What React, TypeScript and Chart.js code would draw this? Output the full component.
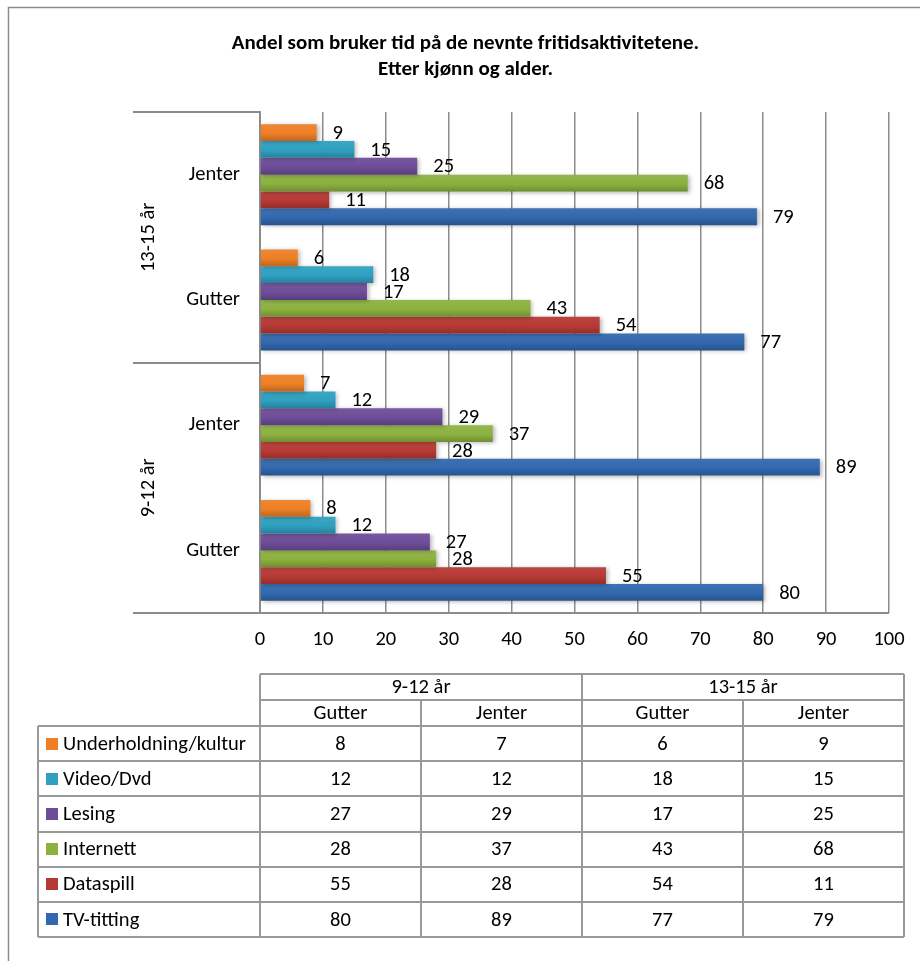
import React, { useEffect, useRef } from "react";
import { Chart, registerables } from "chart.js";

Chart.register(...registerables);

// ---- data -------------------------------------------------------------
const TITLE = [
  "Andel som bruker tid på de nevnte fritidsaktivitetene.",
  "Etter kjønn og alder.",
];
const AGE_GROUPS = ["9-12 år", "13-15 år"];
const GENDERS = ["Gutter", "Jenter"];
const SERIES = [
  "Underholdning/kultur",
  "Video/Dvd",
  "Lesing",
  "Internett",
  "Dataspill",
  "TV-titting",
];
const COLORS = ["#EE7F26", "#2FA0C0", "#6E4D98", "#8CB13F", "#B73935", "#3268AE"];

// columns: 9-12 Gutter, 9-12 Jenter, 13-15 Gutter, 13-15 Jenter
const underholdning = [8, 7, 6, 9];
const videoDvd = [12, 12, 18, 15];
const lesing = [27, 29, 17, 25];
const internett = [28, 37, 43, 68];
const dataspill = [55, 28, 54, 11];
const tvTitting = [80, 89, 77, 79];
const SERIES_VALUES = [underholdning, videoDvd, lesing, internett, dataspill, tvTitting];

const X_MIN = 0;
const X_MAX = 100;
const X_STEP = 10;

// ---- look -------------------------------------------------------------
const FONT = "Carlito, Lato, 'Liberation Sans', sans-serif";
const FS = 20.5;
const LINE = "#8c8c8c";
const TEXT = "#000000";

// columns in table order, reversed for the chart (top group first)
const COLUMNS = AGE_GROUPS.flatMap((age) => GENDERS.map((g) => ({ age, gender: g })));
const CHART_COLUMNS = COLUMNS.slice().reverse();

function shade(hex: string, f: number) {
  const n = parseInt(hex.slice(1), 16);
  const r = (n >> 16) & 255, g = (n >> 8) & 255, b = n & 255;
  const m = (c: number) => Math.round(f >= 0 ? c + (255 - c) * f : c * (1 + f));
  return `rgb(${m(r)},${m(g)},${m(b)})`;
}

// gives each bar a top-to-bottom gradient and a soft drop shadow
const barShading = {
  id: "barShading",
  beforeDatasetsDraw(chart: any) {
    const c = chart.ctx;
    chart.data.datasets.forEach((ds: any, di: number) => {
      const meta = chart.getDatasetMeta(di);
      meta.data.forEach((el: any) => {
        const h = el.height;
        const g = c.createLinearGradient(0, el.y - h / 2, 0, el.y + h / 2);
        g.addColorStop(0, shade(COLORS[di], 0.06));
        g.addColorStop(0.55, COLORS[di]);
        g.addColorStop(1, shade(COLORS[di], -0.2));
        el.options = Object.assign({}, el.options, { backgroundColor: g });
      });
    });
  },
  beforeDatasetDraw(chart: any) {
    const c = chart.ctx;
    c.save();
    c.shadowColor = "rgba(0,0,0,0.28)";
    c.shadowBlur = 4;
    c.shadowOffsetX = 2;
    c.shadowOffsetY = 1;
  },
  afterDatasetDraw(chart: any) {
    chart.ctx.restore();
  },
};

// value labels right of each bar
const valueLabels = {
  id: "valueLabels",
  afterDatasetsDraw(chart: any) {
    const c = chart.ctx;
    c.save();
    c.font = `${FS}px ${FONT}`;
    c.fillStyle = TEXT;
    c.textAlign = "left";
    c.textBaseline = "middle";
    chart.data.datasets.forEach((ds: any, di: number) => {
      const meta = chart.getDatasetMeta(di);
      meta.data.forEach((el: any, i: number) => {
        c.fillText(String(ds.data[i]), el.x + 16, el.y + 1);
      });
    });
    c.restore();
  },
};

// outer frame, age-group brackets and the data table
const frameAndTable = {
  id: "frameAndTable",
  afterDraw(chart: any) {
    const c = chart.ctx;
    const area = chart.chartArea;
    const y = chart.scales.y;
    const groupLeft = 133;
    c.save();

    // frame
    c.strokeStyle = LINE;
    c.lineWidth = 1.5;
    c.strokeRect(8.5, 7.5, 940, 1000);

    // group separators on the category axis
    c.lineWidth = 2;
    c.strokeStyle = LINE;
    const seps = [area.top, y.getPixelForValue(1.5)];
    c.beginPath();
    seps.forEach((sy: number) => {
      c.moveTo(groupLeft, Math.round(sy));
      c.lineTo(area.left, Math.round(sy));
    });
    c.moveTo(groupLeft, Math.round(area.bottom));
    c.lineTo(area.right, Math.round(area.bottom));
    c.stroke();

    // rotated age-group labels (top group is the last age group)
    c.fillStyle = TEXT;
    c.font = `${FS}px ${FONT}`;
    c.textAlign = "center";
    c.textBaseline = "middle";
    const bounds = [area.top, y.getPixelForValue(1.5), area.bottom];
    const groupsTopDown = AGE_GROUPS.slice().reverse();
    groupsTopDown.forEach((label, k) => {
      const cy = (bounds[k] + bounds[k + 1]) / 2;
      c.save();
      c.translate(149, cy);
      c.rotate(-Math.PI / 2);
      c.fillText(label, 0, 0);
      c.restore();
    });

    // data table
    const tLeft = 38;
    const cLeft = 260;
    const cRight = 904;
    const colW = (cRight - cLeft) / COLUMNS.length;
    const hTop = 674;
    const hMid = 700;
    const dTop = 726;
    const dBottom = 937;
    const rowH = (dBottom - dTop) / SERIES.length;

    c.strokeStyle = "#999999";
    c.lineWidth = 2;
    c.beginPath();
    [hTop, hMid].forEach((yy) => {
      c.moveTo(cLeft, yy);
      c.lineTo(cRight, yy);
    });
    for (let r = 0; r <= SERIES.length; r++) {
      const yy = Math.round(dTop + r * rowH);
      c.moveTo(tLeft, yy);
      c.lineTo(cRight, yy);
    }
    c.moveTo(tLeft, dTop);
    c.lineTo(tLeft, dBottom);
    for (let k = 0; k <= COLUMNS.length; k++) {
      const xx = Math.round(cLeft + k * colW);
      const top = k % GENDERS.length === 0 ? hTop : hMid;
      c.moveTo(xx, top);
      c.lineTo(xx, dBottom);
    }
    c.stroke();

    c.fillStyle = TEXT;
    c.font = `${FS}px ${FONT}`;
    c.textBaseline = "middle";
    c.textAlign = "center";
    AGE_GROUPS.forEach((age, a) => {
      const x0 = cLeft + a * GENDERS.length * colW;
      c.fillText(age, x0 + (GENDERS.length * colW) / 2, (hTop + hMid) / 2 + 1);
    });
    COLUMNS.forEach((col, k) => {
      c.fillText(col.gender, cLeft + k * colW + colW / 2, (hMid + dTop) / 2 + 1);
    });
    SERIES.forEach((name, r) => {
      const cy = dTop + r * rowH + rowH / 2 + 1;
      c.fillStyle = COLORS[r];
      c.fillRect(46, Math.round(cy - 7), 12, 12);
      c.fillStyle = TEXT;
      c.textAlign = "left";
      c.fillText(name, 63, cy);
      c.textAlign = "center";
      SERIES_VALUES[r].forEach((v, k) => {
        c.fillText(String(v), cLeft + k * colW + colW / 2, cy);
      });
    });

    c.restore();
  },
};

export default function App() {
  const ref = useRef<HTMLCanvasElement | null>(null);

  useEffect(() => {
    document.body.style.margin = "0";
    document.body.style.background = "#ffffff";
    const canvas = ref.current;
    if (!canvas) return;

    const chart = new Chart(canvas, {
      type: "bar",
      data: {
        labels: CHART_COLUMNS.map((c) => c.gender),
        datasets: SERIES.map((name, i) => ({
          label: name,
          data: CHART_COLUMNS.map((col) => SERIES_VALUES[i][COLUMNS.indexOf(col)]),
          backgroundColor: COLORS[i],
          borderWidth: 0,
          categoryPercentage: 0.806,
          barPercentage: 1,
        })),
      },
      options: {
        indexAxis: "y",
        animation: false,
        responsive: false,
        maintainAspectRatio: false,
        events: [],
        layout: { padding: { left: 42, right: 31, top: 0, bottom: 300 } },
        plugins: {
          legend: { display: false },
          tooltip: { enabled: false },
          title: {
            display: true,
            text: TITLE,
            color: TEXT,
            font: { family: FONT, size: 21, weight: "bold", lineHeight: 1.24 },
            padding: { top: 31, bottom: 29 },
          },
        },
        scales: {
          x: {
            min: X_MIN,
            max: X_MAX,
            ticks: {
              stepSize: X_STEP,
              color: TEXT,
              font: { family: FONT, size: FS },
              padding: 15,
            },
            grid: { color: LINE, lineWidth: 1.5, drawTicks: false },
            border: { display: false },
            afterFit: (s: any) => {
              s.height = 48;
            },
          },
          y: {
            grid: { display: false, drawTicks: false },
            border: { display: true, color: LINE, width: 2 },
            ticks: {
              color: TEXT,
              font: { family: FONT, size: FS },
              padding: 20,
            },
            afterFit: (s: any) => {
              s.width = 218;
            },
          },
        },
      },
      plugins: [barShading, valueLabels, frameAndTable],
    });

    return () => chart.destroy();
  }, []);

  return (
    <div style={{ position: "absolute", left: 0, top: 0, width: 920, height: 961, background: "#fff" }}>
      <canvas ref={ref} width={920} height={961} style={{ display: "block", width: 920, height: 961 }} />
    </div>
  );
}
